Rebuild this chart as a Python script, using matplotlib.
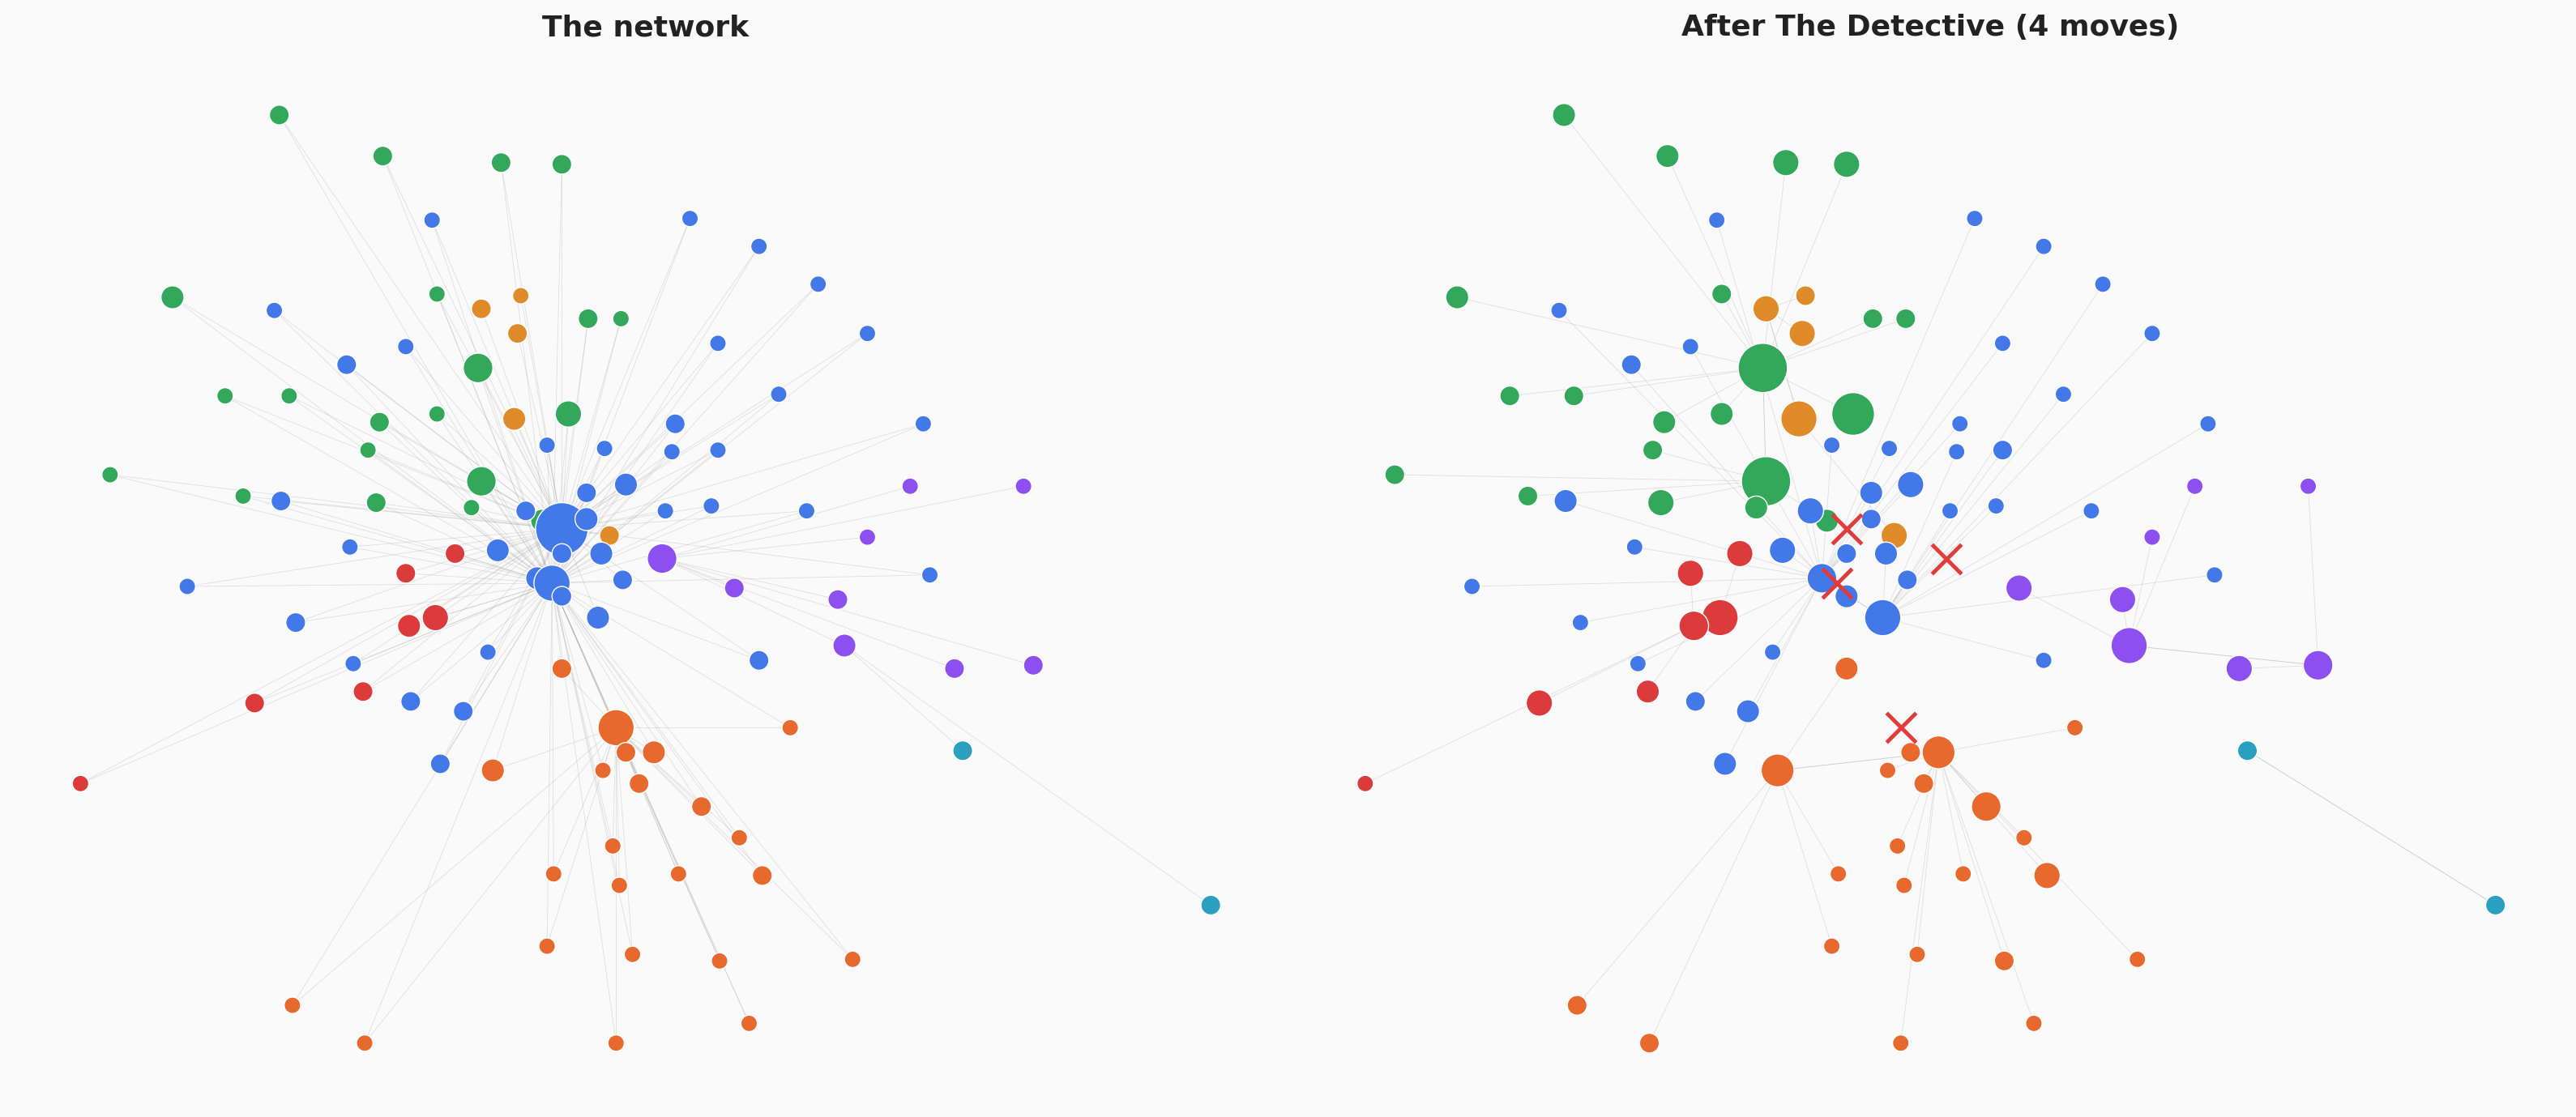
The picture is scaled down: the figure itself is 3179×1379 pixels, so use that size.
import matplotlib
matplotlib.use("Agg")
import matplotlib.pyplot as plt
import numpy as np

# node groups: (x, y, radius_before, radius_after); radius_after 0 = removed
green = [(170,70,6,7),(233,95,6,7),(305,99,6,8),(342,100,6,8),(105,181,7,7),(266,179,5,6),
         (358,194,6,6),(378,194,5,6),(291,224,9,15),(137,241,5,6),(176,241,5,6),(231,257,6,7),
         (266,252,5,7),(346,252,8,13),(224,274,5,6),(67,289,5,6),(293,293,9,15),(148,302,5,6),
         (229,306,6,8),(287,309,5,7),(330,317,7,7)]
orange_up = [(293,188,6,8),(317,180,5,6),(315,203,6,8),(313,255,7,11),(371,326,6,8)]
blue = [(263,134,5,5),(420,133,5,5),(462,150,5,5),(498,173,5,5),(167,189,5,5),(211,222,6,6),
        (247,211,5,5),(437,209,5,5),(528,203,5,5),(474,240,5,5),(562,258,5,5),(411,258,6,5),
        (333,271,5,5),(368,273,5,5),(409,275,5,5),(437,274,5,6),(381,295,7,8),(357,300,6,7),
        (171,305,6,7),(320,311,6,8),(405,311,5,5),(433,308,5,5),(491,311,5,5),(213,333,5,5),
        (303,335,7,8),(342,322,16,0),(357,316,7,6),(366,337,7,7),(342,337,6,6),(114,357,5,5),
        (327,352,7,9),(336,355,11,0),(379,353,6,6),(566,350,5,5),(342,363,6,7),(180,379,6,5),
        (364,376,7,11),(297,397,5,5),(215,404,5,5),(462,402,6,5),(250,427,6,6),(282,433,6,7),
        (268,465,6,7)]
red = [(247,349,6,8),(277,337,6,8),(265,376,8,11),(249,381,7,9),(221,421,6,7),(155,428,6,8),(49,477,5,5)]
purple = [(403,340,9,0),(554,296,5,5),(623,296,5,5),(528,327,5,5),(447,358,6,8),(510,365,6,8),
          (514,393,7,11),(581,407,6,8),(629,405,6,9)]
teal = [(586,457,6,6),(737,551,6,6)]
orange_low = [(342,407,6,7),(375,443,11,0),(481,443,5,5),(381,458,6,6),(398,458,7,10),(367,469,5,5),
              (300,469,7,10),(389,477,6,6),(427,491,6,9),(450,510,5,5),(373,515,5,5),(337,532,5,5),
              (377,539,5,5),(413,532,5,5),(464,533,6,8),(333,576,5,5),(385,581,5,5),(438,585,5,6),
              (519,584,5,5),(178,612,5,6),(222,635,5,6),(375,635,5,5),(456,623,5,5)]

titles = ["The network", "After The Detective (4 moves)"]
groups = [("g",green,"#34a85a"),("ou",orange_up,"#e08b2a"),("b",blue,"#4378e8"),("r",red,"#dc3b3b"),
          ("p",purple,"#8c4ff0"),("t",teal,"#2a9fbf"),("ol",orange_low,"#e8692e")]

W, H = 3179, 1379
fig = plt.figure(figsize=(W/100, H/100), dpi=100, facecolor="#fafafa")
ax = fig.add_axes([0,0,1,1]); ax.set_facecolor("#fafafa")
ax.set_xlim(0,1568); ax.set_ylim(680,0); ax.axis("off")
px = W/1568
def s_of(r): return (2*r*px*72/100)**2

OFF = 782
EC = dict(color="#a0a0a0", lw=0.6, alpha=0.3, zorder=1)
hubs_before = {"g":[(342,322),(336,355)],"ou":[(342,322)],"b":[(342,322),(336,355)],
               "r":[(342,322),(336,355)],"p":[(403,340)],"t":[(514,393)],"ol":[(375,443),(336,355)]}
for key,nodes,c in groups:
    for (x,y,r0,r1) in nodes:
        for hx,hy in hubs_before[key]:
            if (hx,hy)!=(x,y):
                ax.plot([x,hx],[y,hy],**EC)
for key,nodes,c in groups:
    alive = [n for n in nodes if n[3]>0]
    top = sorted(alive,key=lambda n:-n[3])[:2]
    for (x,y,r0,r1) in alive:
        if (x,y)==(top[0][0],top[0][1]) and len(top)>1:
            h = top[1]
        else:
            h = min(top, key=lambda t:(t[0]-x)**2+(t[1]-y)**2 if (t[0],t[1])!=(x,y) else 1e9)
        if (h[0],h[1])!=(x,y):
            ax.plot([x+OFF,h[0]+OFF],[y,h[1]],**EC)

for key,nodes,c in groups:
    xs=[n[0] for n in nodes]; ys=[n[1] for n in nodes]
    ax.scatter(xs,ys,s=[s_of(n[2]) for n in nodes],c=c,edgecolors="white",linewidths=1,zorder=3)
    alive=[n for n in nodes if n[3]>0]
    ax.scatter([n[0]+OFF for n in alive],[n[1] for n in alive],s=[s_of(n[3]) for n in alive],
               c=c,edgecolors="white",linewidths=1,zorder=3)
    dead=[n for n in nodes if n[3]==0]
    if dead:
        ax.scatter([n[0]+OFF for n in dead],[n[1] for n in dead],marker="x",s=s_of(9),
                   c="#e03c3c",linewidths=3.5,zorder=4)

ax.text(393,17,titles[0],ha="center",va="center",fontsize=26,fontweight="bold",color="#222")
ax.text(1175,17,titles[1],ha="center",va="center",fontsize=26,fontweight="bold",color="#222")
fig.savefig("out.png",dpi=100,facecolor="#fafafa")
